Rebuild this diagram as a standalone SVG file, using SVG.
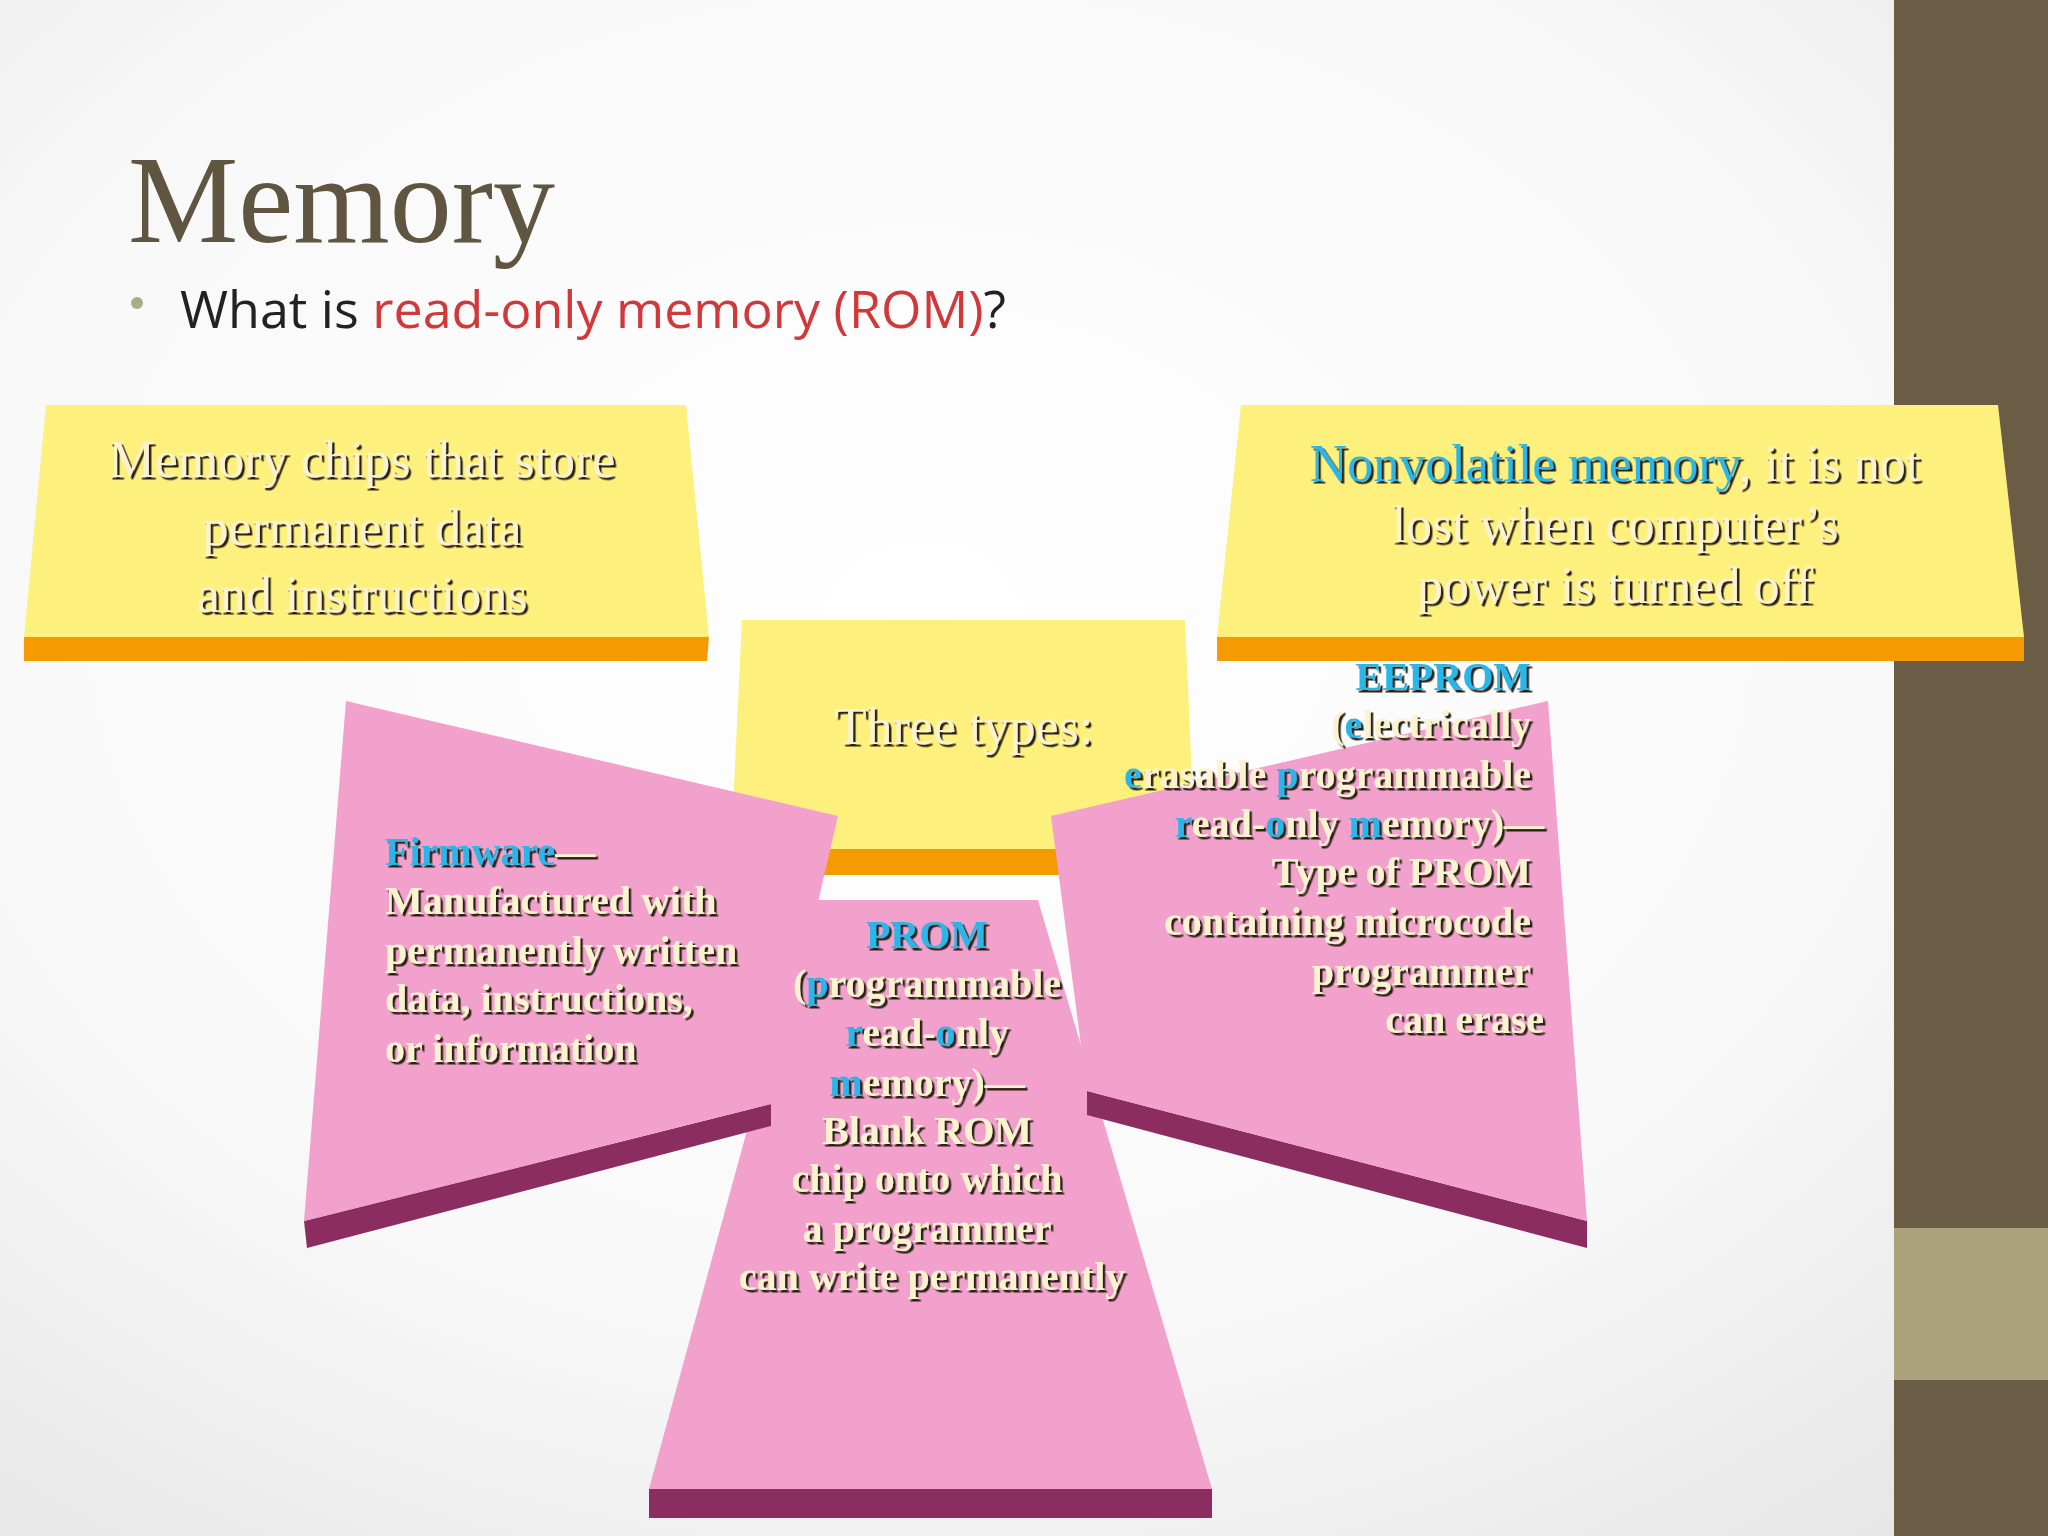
<svg xmlns="http://www.w3.org/2000/svg" width="2048" height="1536" viewBox="0 0 2048 1536">
<defs>
<radialGradient id="bg" cx="0.45" cy="0.4" r="0.8"><stop offset="0" stop-color="#ffffff"/><stop offset="0.6" stop-color="#f8f8f8"/><stop offset="1" stop-color="#e4e4e4"/></radialGradient>
<filter id="sh" x="-5%" y="-20%" width="110%" height="140%"><feDropShadow dx="2.5" dy="2.5" stdDeviation="0.3" flood-color="#2a2218"/></filter>
<style>
.t{font-family:"Liberation Serif","DejaVu Serif",serif;font-weight:bold;fill:#fbf3cf;filter:url(#sh)}
.big{font-size:52px;font-weight:normal}
.sm{font-size:40px}
.k{fill:#29b6e8}
.y{fill:#fdf07c}.o{fill:#f59a00}.p{fill:#f2a0cc}.d{fill:#8b2d61}
</style>
</defs>
<rect width="2048" height="1536" fill="url(#bg)"/>
<rect x="1894" y="0" width="154" height="1536" fill="#6b5d45"/>
<rect x="1894" y="1228" width="154" height="152" fill="#a9a27c"/>
<text x="128" y="242" font-family="Liberation Serif,serif" font-size="124" fill="#5f5540">Memory</text>
<circle cx="137" cy="303" r="6" fill="#a5ae8a"/>
<text x="180" y="328" font-family="Open Sans,Liberation Sans,sans-serif" font-size="52" fill="#222">What is <tspan fill="#d0383a">read-only memory (ROM)</tspan>?</text>
<g id="box-left">
<polygon class="o" points="24,637 709,637 707,661 24,661"/>
<polygon class="y" points="46,405 686,405 709,637 24,637"/>
<text class="t big" text-anchor="middle"><tspan x="362" y="477">Memory chips that store</tspan><tspan x="362" y="545">permanent data</tspan><tspan x="362" y="612">and instructions</tspan></text>
</g>
<g id="box-right">
<polygon class="o" points="1217,637 2024,637 2024,661 1217,661"/>
<polygon class="y" points="1241,405 1998,405 2024,637 1217,637"/>
<text class="t big" text-anchor="middle"><tspan x="1615" y="481"><tspan class="k">Nonvolatile memory</tspan>, it is not</tspan><tspan x="1615" y="542">lost when computer’s</tspan><tspan x="1615" y="603">power is turned off</tspan></text>
</g>
<g id="box-center">
<polygon class="o" points="731,849 1195,849 1195,875 731,875"/>
<polygon class="y" points="742,620 1185,620 1195,849 731,849"/>
<text class="t big" x="964" y="744" text-anchor="middle" font-size="56">Three types:</text>
</g>
<g id="prom">
<polygon class="d" points="649,1489 1212,1489 1212,1518 649,1518"/>
<polygon class="p" points="810,900 1038,900 1212,1489 649,1489"/>
</g>
<g id="firmware">
<polygon class="d" points="304,1221 771,1104 771,1126 307,1248"/>
<polygon class="p" points="346,701 838,816 771,1104 304,1221"/>
</g>
<g id="eeprom">
<polygon class="d" points="1087,1091 1587,1221 1587,1248 1087,1115"/>
<polygon class="p" points="1051,816 1548,701 1587,1221 1087,1091"/>
</g>
<text class="t sm"><tspan x="385" y="865"><tspan class="k">Firmware</tspan>—</tspan><tspan x="385" y="914">Manufactured with</tspan><tspan x="385" y="964">permanently written</tspan><tspan x="385" y="1012">data, instructions,</tspan><tspan x="385" y="1062">or information</tspan></text>
<text class="t sm" text-anchor="middle"><tspan x="927" y="948" class="k">PROM</tspan><tspan x="927" y="997">(<tspan class="k">p</tspan>rogrammable</tspan><tspan x="927" y="1046"><tspan class="k">r</tspan>ead-<tspan class="k">o</tspan>nly</tspan><tspan x="927" y="1096"><tspan class="k">m</tspan>emory)—</tspan><tspan x="927" y="1144">Blank ROM</tspan><tspan x="927" y="1192">chip onto which</tspan><tspan x="927" y="1242">a programmer</tspan><tspan x="932" y="1290">can write permanently</tspan></text>
<text class="t sm" text-anchor="end"><tspan x="1531" y="690" class="k">EEPROM</tspan><tspan x="1531" y="738">(<tspan class="k">e</tspan>lectrically</tspan><tspan x="1531" y="788"><tspan class="k">e</tspan>rasable <tspan class="k">p</tspan>rogrammable</tspan><tspan x="1544" y="837"><tspan class="k">r</tspan>ead-<tspan class="k">o</tspan>nly <tspan class="k">m</tspan>emory)—</tspan><tspan x="1531" y="885">Type of PROM</tspan><tspan x="1531" y="935">containing microcode</tspan><tspan x="1531" y="985">programmer</tspan><tspan x="1544" y="1033">can erase</tspan></text>
</svg>
